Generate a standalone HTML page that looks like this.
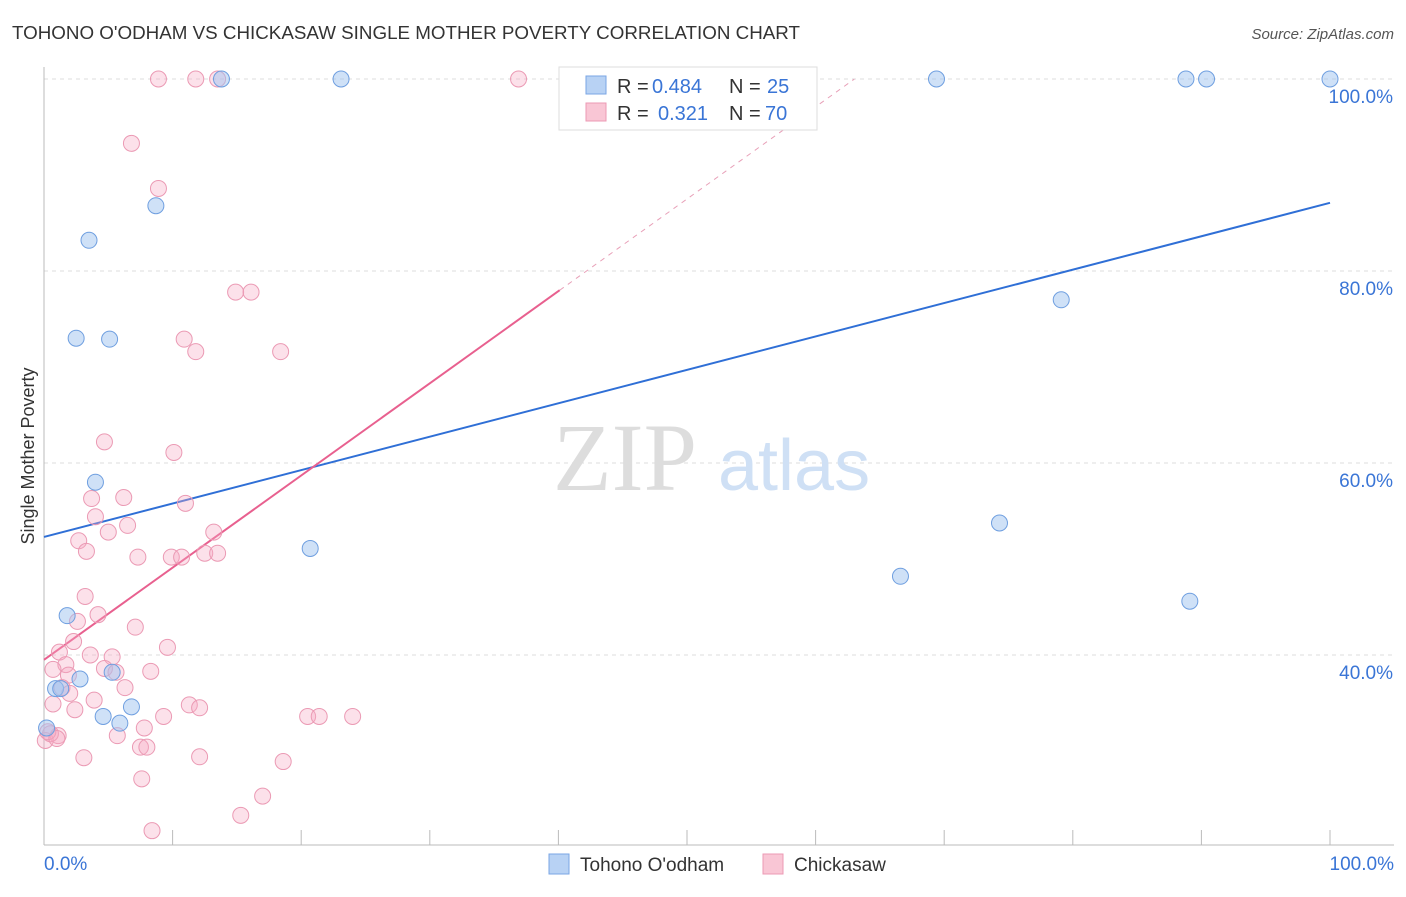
<!DOCTYPE html>
<html><head><meta charset="utf-8"><style>
body{margin:0;background:#fff;font-family:"Liberation Sans",sans-serif;}
</style></head><body>
<svg id="chart" width="1406" height="892" xmlns="http://www.w3.org/2000/svg" style="font-family:'Liberation Sans',sans-serif">
<text x="12" y="39" font-size="18" fill="#333" textLength="788" lengthAdjust="spacingAndGlyphs">TOHONO O'ODHAM VS CHICKASAW SINGLE MOTHER POVERTY CORRELATION CHART</text>
<text x="1394" y="39" font-size="15" fill="#555" text-anchor="end" font-style="italic">Source: ZipAtlas.com</text>
<g id="grid"></g>
<text x="553" y="490" font-size="96" fill="#ddd" font-family="Liberation Serif">ZIP</text>
<text x="718" y="490" font-size="72" fill="#cfe0f5">atlas</text>
<text transform="translate(34,456) rotate(-90)" font-size="18" fill="#333" text-anchor="middle">Single Mother Poverty</text>
<g id="lines"></g>
<g id="points"></g>
<g>
<rect x="559" y="67" width="258" height="63" fill="#fff" stroke="#ddd"/>
<rect x="586" y="76" width="20" height="18" fill="#b8d2f4" stroke="#7aa6e4"/>
<rect x="586" y="103" width="20" height="18" fill="#f9c6d5" stroke="#ec9ab4"/>
<text y="93" font-size="20" fill="#333"><tspan x="617">R =</tspan><tspan x="652" fill="#3a75d6">0.484</tspan><tspan x="729">N =</tspan><tspan x="767" fill="#3a75d6">25</tspan></text>
<text y="120" font-size="20" fill="#333"><tspan x="617">R =</tspan><tspan x="658" fill="#3a75d6">0.321</tspan><tspan x="729">N =</tspan><tspan x="765" fill="#3a75d6">70</tspan></text>
</g>
<g>
<rect x="549" y="854" width="20" height="20" fill="#b8d2f4" stroke="#7aa6e4"/>
<text x="580" y="871" font-size="19" fill="#333">Tohono O'odham</text>
<rect x="763" y="854" width="20" height="20" fill="#f9c6d5" stroke="#ec9ab4"/>
<text x="794" y="871" font-size="19" fill="#333">Chickasaw</text>
</g>
</svg>
<script>
const yTicks=[40,60,80,100];
const xTickLabels=["0.0%","100.0%"];
const blueX=[13.8,23.1,69.4,88.8,90.4,100,8.7,3.5,2.5,5.1,79.1,4.0,20.7,74.3,66.6,89.1,1.8,2.8,0.9,1.3,5.3,4.6,5.9,6.8,0.2];
const blueY=[100,100,100,100,100,100,86.8,83.2,73.0,72.9,77.0,58.0,51.1,53.75,48.2,45.6,44.1,37.5,36.5,36.5,38.2,33.6,32.9,34.6,32.4];
const pinkX=[8.9,11.8,13.5,36.9,6.8,8.9,14.9,16.1,10.9,11.8,18.4,4.7,10.1,3.7,6.2,11.0,4.0,6.5,5.0,13.2,2.7,3.3,7.3,9.9,10.7,12.5,13.5,3.2,4.2,2.6,7.1,2.3,9.6,1.2,3.6,5.3,1.7,0.7,4.7,5.6,8.3,1.9,1.4,6.3,2.0,3.9,0.7,11.3,12.1,2.4,9.3,20.5,21.4,24.0,7.8,5.7,1.1,0.1,0.5,7.5,8.0,3.1,12.1,18.6,7.6,17.0,15.3,8.4,0.3,1.0];
const pinkY=[100,100,100,100,93.3,88.6,77.8,77.8,72.9,71.6,71.6,62.2,61.1,56.3,56.4,55.8,54.4,53.5,52.8,52.8,51.9,50.8,50.2,50.2,50.2,50.6,50.6,46.1,44.2,43.5,42.9,41.4,40.8,40.3,40.0,39.8,39.0,38.5,38.6,38.2,38.3,37.9,36.6,36.6,36.0,35.3,34.9,34.8,34.5,34.3,33.6,33.6,33.6,33.6,32.4,31.6,31.6,31.1,31.8,30.4,30.4,29.3,29.4,28.9,27.1,25.3,23.3,21.7,32.0,31.3];
const blueTrend=[52.3,87.1];   // y at x=0, x=100
const pinkTrend=[39.5,0.96];  // intercept, slope
const X=v=>44+v*12.86, Y=v=>1039-v*9.6;
const NS="http://www.w3.org/2000/svg";
function mk(p,t,a){const e=document.createElementNS(NS,t);for(const k in a)e.setAttribute(k,a[k]);p.appendChild(e);return e;}
const grid=document.getElementById('grid');
yTicks.forEach(t=>{
 const l=mk(grid,'line',{x1:44,x2:1394,y1:Y(t),y2:Y(t),stroke:'#ddd','stroke-dasharray':'4,4'});
 
 
 const tx=mk(grid,'text',{x:1393,y:Y(t)+24,'font-size':19,fill:'#3a75d6','text-anchor':'end'});
 tx.textContent=t.toFixed(1)+'%';
 
 
});
const ax=mk(grid,'line',{x1:44,x2:44,y1:67,y2:845,stroke:'#bbb'});


const bx=mk(grid,'line',{x1:44,x2:1394,y1:845,y2:845,stroke:'#bbb'});


for(let i=0;i<=10;i++){const t=mk(grid,'line',{x1:X(i*10),x2:X(i*10),y1:830,y2:845,stroke:'#bbb'});
 
 }
[[0,'start',44],[1,'end',1394]].forEach(([i,a,x])=>{const t=mk(grid,'text',{x:x,y:870,'font-size':19,fill:'#3a75d6','text-anchor':a});t.textContent=xTickLabels[i];
 
 });
const pts=document.getElementById('points');
pinkX.forEach((v,i)=>{const c=mk(pts,'circle',{cx:X(v),cy:Y(pinkY[i]),r:8,fill:'rgba(245,170,195,0.35)',stroke:'#eb9ab4','stroke-width':1});
 
 });
blueX.forEach((v,i)=>{const c=mk(pts,'circle',{cx:X(v),cy:Y(blueY[i]),r:8,fill:'rgba(160,195,240,0.5)',stroke:'#6f9fe0','stroke-width':1});
 
 });
const ln=document.getElementById('lines');
const b=mk(ln,'line',{x1:X(0),y1:Y(blueTrend[0]),x2:X(100),y2:Y(blueTrend[1]),stroke:'#2f6fd6','stroke-width':2});


const pe=(100-pinkTrend[0])/pinkTrend[1];
const p1=mk(ln,'line',{x1:X(0),y1:Y(pinkTrend[0]),x2:X(40.1),y2:Y(pinkTrend[0]+pinkTrend[1]*40.1),stroke:'#e8608f','stroke-width':2});


const p2=mk(ln,'line',{x1:X(40.1),y1:Y(pinkTrend[0]+pinkTrend[1]*40.1),x2:X(pe),y2:Y(100),stroke:'#e8a0b8','stroke-width':1,'stroke-dasharray':'5,5'});


</script>
</body></html>
